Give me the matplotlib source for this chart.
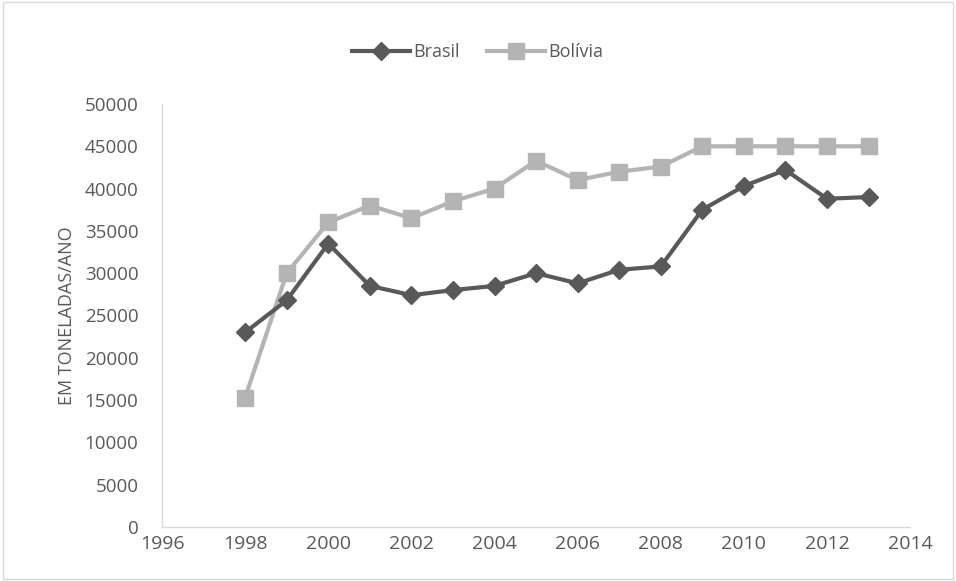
import matplotlib.pyplot as plt
from matplotlib.patches import Rectangle

years = list(range(1998, 2014))
brasil = [23000, 26800, 33500, 28500, 27400, 28000, 28500, 30000,
          28800, 30400, 30800, 37500, 40300, 42200, 38800, 39000]
bolivia = [15300, 30000, 36000, 38000, 36500, 38500, 40000, 43300,
           41000, 42000, 42600, 45000, 45000, 45000, 45000, 45000]

plt.rcParams['font.family'] = ['Open Sans', 'DejaVu Sans']
text_color = '#595959'

fig = plt.figure(figsize=(9.56, 5.81), dpi=100)
ax = fig.add_axes([0.1695, 0.093, 0.7825, 0.728])

ax.plot(years, brasil, color='#595959', lw=3, marker='D', ms=9,
        label='Brasil', zorder=3)
ax.plot(years, bolivia, color='#b4b4b4', lw=3, marker='s', ms=11,
        label='Bolívia', zorder=2)

ax.set_xlim(1996, 2014)
ax.set_ylim(0, 50000)
ax.set_xticks(range(1996, 2015, 2))
ax.set_yticks(range(0, 50001, 5000))
ax.tick_params(axis='both', length=0, labelsize=13.5, colors=text_color)
ax.tick_params(axis='x', pad=6, labelsize=14)
ax.tick_params(axis='y', pad=17)

for side in ['top', 'right']:
    ax.spines[side].set_visible(False)
for side in ['left', 'bottom']:
    ax.spines[side].set_color('#d9d9d9')
    ax.spines[side].set_linewidth(1)

ax.set_ylabel('EM TONELADAS/ANO', fontsize=13, color=text_color, labelpad=6)

leg = fig.legend(loc='center', bbox_to_anchor=(0.5, 0.91), ncol=2,
                 frameon=False, fontsize=13, handlelength=3.2,
                 columnspacing=1.5, handletextpad=0.2)
for t in leg.get_texts():
    t.set_color(text_color)

# light frame around the whole chart
fig.patches.append(Rectangle((0.003, 0.003), 0.994, 0.994,
                             transform=fig.transFigure, fill=False,
                             edgecolor='#d9d9d9', lw=1))

fig.savefig('out.png', dpi=100)
